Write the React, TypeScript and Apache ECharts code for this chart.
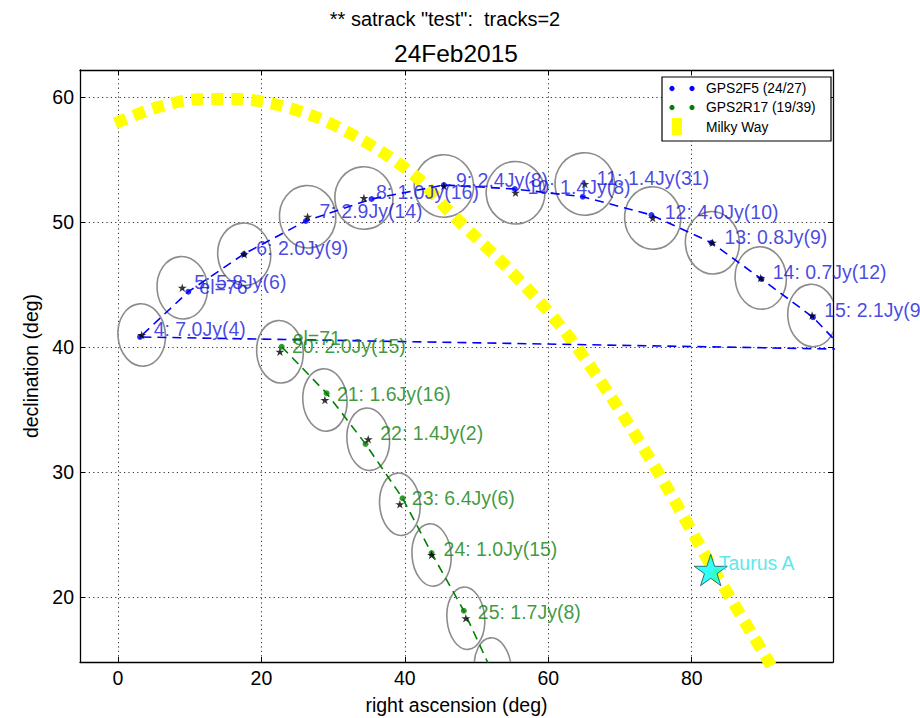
import React, { useEffect, useRef } from "react";
import * as echarts from "echarts";

// ---- axis extents (deg) ----
const raRange = [-5.3, 99.7];
const decRange = [14.8, 62.16];
const raStep = 20;
const decStep = 10;

// beam radius on the sky (deg)
const beamRadius = 2.5;

// ---- GPS2F5 (blue) track ----
const f5Prev = [356.0, 37.3];
const f5Sat = [
  [3.07, 40.8], [9.8, 44.42], [17.56, 47.44], [26.2, 50.08], [35.36, 51.84],
  [45.44, 52.96], [55.33, 52.64], [64.81, 52.02], [74.38, 50.56], [82.75, 48.34],
  [89.72, 45.44], [96.91, 42.38], [103.4, 38.48],
];
const f5Pointing = [
  [3.3, 40.96], [8.96, 44.74], [17.6, 47.42], [26.44, 50.42], [34.29, 51.92],
  [45.44, 52.88], [55.43, 52.34], [65.09, 53.04], [74.56, 50.32], [82.88, 48.34],
  [89.62, 45.52], [96.79, 42.52], [103.0, 38.32],
];
const f5Labels = [
  "4: 7.0Jy(4)", "5: 5.8Jy(6)", "6: 2.0Jy(9)", "7: 2.9Jy(14)", "8: 1.0Jy(16)",
  "9: 2.4Jy(8)", "10: 1.4Jy(8)", "11: 1.4Jy(31)", "12: 4.0Jy(10)", "13: 0.8Jy(9)",
  "14: 0.7Jy(12)", "15: 2.1Jy(9)", "",
];
const f5ElevIndex = 1;
const f5Elev = "el=76";

// ---- GPS2R17 (green) track ----
const r17Sat = [
  [22.82, 40.02], [29.09, 36.3], [34.52, 32.24], [39.68, 27.9], [43.72, 23.52],
  [48.22, 18.9], [51.85, 14.4],
];
const r17Pointing = [
  [22.58, 39.62], [28.85, 35.76], [34.89, 32.62], [39.3, 27.42], [43.72, 23.36],
  [48.5, 18.3], [52.26, 14.24],
];
const r17Labels = [
  "20: 2.0Jy(15)", "21: 1.6Jy(16)", "22: 1.4Jy(2)", "23: 6.4Jy(6)",
  "24: 1.0Jy(15)", "25: 1.7Jy(8)", "",
];
const r17ElevIndex = 0;
const r17Elev = "el=71";

// ---- Milky Way ----
const milkyWay = [
  [-0.4, 57.9], [5.48, 59.18], [11.05, 59.82], [16.68, 59.84], [22.34, 59.36],
  [27.69, 58.38], [32.79, 56.96], [37.45, 55.36], [42.09, 53.36], [45.99, 50.96],
  [49.99, 48.72], [53.94, 46.56], [61.6, 41.76], [68.57, 36.16], [75.54, 29.76],
  [83.07, 22.16], [90.59, 14.96], [91.6, 13.9],
];

// ---- Taurus A ----
const taurusA = [82.65, 22.16];
const taurusName = "Taurus A";

const BLUE = "#0000ff";
const BLUE_TEXT = "#1818dc";
const GREEN = "#008000";
const GREEN_TEXT = "#0b800b";
const FONT = "'Liberation Sans', Arial, Helvetica, sans-serif";
const STAR =
  "path://M50,0L61.23,34.55L97.55,34.55L68.17,55.9L79.39,90.45L50,69.1L20.61,90.45L31.83,55.9L2.45,34.55L38.77,34.55Z";

function buildOption() {
  const axisLine = { show: true, onZero: false, lineStyle: { color: "#000", width: 1.3 } };
  const axisTick = { show: true, inside: true, length: 5, lineStyle: { color: "#000", width: 1 } };
  const grid = { type: [1.2, 3.2] as any, color: "#333", width: 1 };

  const xBase = {
    type: "value",
    min: raRange[0],
    max: raRange[1],
    minInterval: raStep,
    maxInterval: raStep,
    splitNumber: 5,
    axisLine,
    axisTick,
  };
  const yBase = {
    type: "value",
    min: decRange[0],
    max: decRange[1],
    minInterval: decStep,
    maxInterval: decStep,
    splitNumber: 5,
    axisLine,
    axisTick,
  };

  const ellipseSeries = (pts: number[][], name: string) => ({
    type: "custom",
    name,
    xAxisIndex: 0,
    yAxisIndex: 0,
    clip: true,
    z: 2,
    silent: true,
    encode: { x: 0, y: 1 },
    data: pts,
    renderItem: (_p: any, api: any) => {
      const ra = api.value(0);
      const dec = api.value(1);
      const c = api.coord([ra, dec]);
      const rxDeg = beamRadius / Math.cos((dec * Math.PI) / 180);
      const s = api.size([rxDeg, beamRadius], [ra, dec]);
      return {
        type: "ellipse",
        x: c[0],
        y: c[1],
        rotation: 0.08,
        shape: { cx: 0, cy: 0, rx: s[0], ry: s[1] },
        style: { fill: "none", stroke: "#8c8c8c", lineWidth: 1.6 },
      };
    },
  });

  const trackLine = (pts: number[][], color: string, name: string) => ({
    type: "line",
    name,
    data: pts,
    showSymbol: false,
    symbol: "none",
    clip: true,
    z: 4,
    lineStyle: { color, width: 1.6, type: [9, 6] },
    silent: true,
  });

  const satDots = (pts: number[][], color: string, textColor: string, name: string, elIdx: number, elText: string, elOffset: number[]) => ({
    type: "scatter",
    name,
    z: 5,
    symbol: "circle",
    symbolSize: 6,
    itemStyle: { color },
    data: pts.map((p, i) =>
      i === elIdx
        ? {
            value: p,
            label: {
              show: true,
              formatter: elText,
              position: "right",
              distance: 8,
              offset: elOffset,
              color: textColor,
              fontSize: 19.5,
              fontFamily: FONT,
            },
          }
        : { value: p }
    ),
  });

  const pointings = (pts: number[][], labels: string[], textColor: string, name: string) => ({
    type: "scatter",
    name,
    z: 6,
    symbol: STAR,
    symbolKeepAspect: true,
    symbolSize: 9,
    itemStyle: { color: "#000" },
    data: pts.map((p, i) => ({ name: labels[i], value: p })),
    label: {
      show: true,
      formatter: "{b}",
      position: "right",
      distance: 7.5,
      offset: [0, -6],
      color: textColor,
      fontSize: 19.5,
      fontFamily: FONT,
    },
  });

  return {
    animation: false,
    backgroundColor: "#fff",
    textStyle: { fontFamily: FONT },
    grid: { left: 80, right: 87, top: 70, bottom: 56, containLabel: false, outerBoundsMode: "none" },
    xAxis: [
      {
        ...xBase,
        position: "bottom",
        name: "right ascension (deg)",
        nameLocation: "middle",
        nameGap: 33,
        nameTextStyle: { fontSize: 19.5, color: "#000", fontFamily: FONT },
        axisLabel: {
          show: true,
          showMinLabel: false,
          showMaxLabel: false,
          fontSize: 19.5,
          color: "#000",
          margin: 6,
          fontFamily: FONT,
        },
        splitLine: { show: true, lineStyle: grid },
      },
      {
        ...xBase,
        position: "top",
        axisLabel: { show: false },
        splitLine: { show: false },
      },
    ],
    yAxis: [
      {
        ...yBase,
        position: "left",
        name: "declination (deg)",
        nameLocation: "middle",
        nameGap: 33,
        nameTextStyle: { fontSize: 19.5, color: "#000", fontFamily: FONT },
        axisLabel: {
          show: true,
          showMinLabel: false,
          showMaxLabel: false,
          fontSize: 19.5,
          color: "#000",
          margin: 6,
          fontFamily: FONT,
        },
        splitLine: { show: true, lineStyle: grid },
      },
      {
        ...yBase,
        position: "right",
        axisLabel: { show: false },
        splitLine: { show: false },
      },
    ],
    series: [
      ellipseSeries(f5Pointing, "GPS2F5 beams"),
      ellipseSeries(r17Pointing, "GPS2R17 beams"),
      {
        type: "line",
        name: "Milky Way",
        data: milkyWay,
        showSymbol: false,
        symbol: "none",
        smooth: 0.3,
        clip: true,
        z: 3,
        silent: true,
        lineStyle: { color: "#ffff00", width: 12, type: [12, 8], cap: "butt" },
      },
      trackLine([f5Prev, ...f5Sat], BLUE, "GPS2F5 track"),
      trackLine(r17Sat, GREEN, "GPS2R17 track"),
      satDots(f5Sat, BLUE, BLUE_TEXT, "GPS2F5", f5ElevIndex, f5Elev, [0, -5]),
      satDots(r17Sat, GREEN, GREEN_TEXT, "GPS2R17", r17ElevIndex, r17Elev, [0, -9]),
      pointings(f5Pointing, f5Labels, BLUE_TEXT, "GPS2F5 pointings"),
      pointings(r17Pointing, r17Labels, GREEN_TEXT, "GPS2R17 pointings"),
      {
        type: "scatter",
        name: taurusName,
        z: 7,
        symbol: STAR,
        symbolKeepAspect: true,
        symbolSize: 33,
        itemStyle: { color: "#00ffff", borderColor: "#1d4a4a", borderWidth: 1 },
        data: [{ name: taurusName, value: taurusA }],
        label: {
          show: true,
          formatter: "{b}",
          position: "right",
          distance: -9,
          offset: [0, -7],
          color: "#2fe3e3",
          fontSize: 19.5,
          fontFamily: FONT,
        },
      },
    ],
    graphic: [
      {
        type: "text",
        x: 445,
        y: 19,
        z: 50,
        style: {
          text: '** satrack "test":  tracks=2',
          fontSize: 20,
          fontFamily: FONT,
          fill: "#000",
          align: "center",
          verticalAlign: "middle",
          textAlign: "center",
          textVerticalAlign: "middle",
        },
      },
      {
        type: "text",
        x: 456,
        y: 53,
        z: 50,
        style: {
          text: "24Feb2015",
          fontSize: 24.5,
          fontFamily: FONT,
          fill: "#000",
          align: "center",
          verticalAlign: "middle",
          textAlign: "center",
          textVerticalAlign: "middle",
        },
      },
      {
        type: "group",
        z: 60,
        children: [
          {
            type: "rect",
            z: 60,
            shape: { x: 662, y: 77, width: 169, height: 64 },
            style: { fill: "#fff", stroke: "#000", lineWidth: 1.2 },
          },
          { type: "circle", z: 61, shape: { cx: 672, cy: 88.5, r: 2.6 }, style: { fill: BLUE } },
          { type: "circle", z: 61, shape: { cx: 692, cy: 88.5, r: 2.6 }, style: { fill: BLUE } },
          { type: "circle", z: 61, shape: { cx: 672, cy: 107.5, r: 2.6 }, style: { fill: GREEN } },
          { type: "circle", z: 61, shape: { cx: 692, cy: 107.5, r: 2.6 }, style: { fill: GREEN } },
          { type: "rect", z: 61, shape: { x: 672, y: 118, width: 10, height: 17 }, style: { fill: "#ffff00" } },
          {
            type: "text",
            z: 61,
            x: 706,
            y: 88.5,
            style: { text: "GPS2F5 (24/27)", fontSize: 13.8, fontFamily: FONT, fill: "#000", verticalAlign: "middle", textVerticalAlign: "middle" },
          },
          {
            type: "text",
            z: 61,
            x: 706,
            y: 107.5,
            style: { text: "GPS2R17 (19/39)", fontSize: 13.8, fontFamily: FONT, fill: "#000", verticalAlign: "middle", textVerticalAlign: "middle" },
          },
          {
            type: "text",
            z: 61,
            x: 706,
            y: 127,
            style: { text: "Milky Way", fontSize: 13.8, fontFamily: FONT, fill: "#000", verticalAlign: "middle", textVerticalAlign: "middle" },
          },
        ],
      },
    ],
  };
}

export default function App() {
  const ref = useRef<HTMLDivElement>(null);
  useEffect(() => {
    if (!ref.current) return;
    const chart = echarts.init(ref.current, undefined, { renderer: "svg" });
    chart.setOption(buildOption() as any);
    return () => chart.dispose();
  }, []);
  return (
    <div
      ref={ref}
      style={{ position: "fixed", left: 0, top: 0, width: 920, height: 718, background: "#fff" }}
    />
  );
}
